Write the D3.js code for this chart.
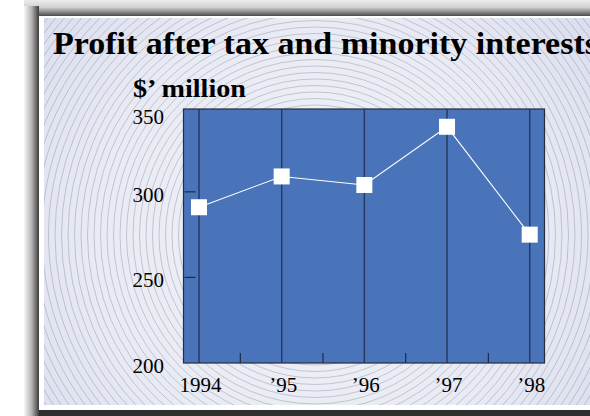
<!DOCTYPE html>
<html>
<head>
<meta charset="utf-8">
<script src="https://cdn.jsdelivr.net/npm/d3@7"></script>
<style>
  html, body { margin: 0; padding: 0; background: #ffffff; }
  svg { display: block; }
  text { font-family: "Liberation Serif", "Times New Roman", serif; fill: #000; }
</style>
</head>
<body>
<svg id="chart" width="590" height="416"></svg>
<script>
// Profit after tax and minority interests, $ million
const years = [1994, 1995, 1996, 1997, 1998];
const yearLabels = ["1994", "\u201995", "\u201996", "\u201997", "\u201998"];
const profit = [291, 309, 304, 338, 275];
const yTicks = [200, 250, 300, 350];

const W = 590, H = 416;
const plot = { left: 183.5, right: 544.5, top: 109, bottom: 363 };

const svg = d3.select("#chart");
const defs = svg.append("defs");

// ---- framed card ----
const sideShade = defs.append("linearGradient").attr("id", "sideShade")
  .attr("x1", 0).attr("x2", 1).attr("y1", 0).attr("y2", 0);
sideShade.append("stop").attr("offset", 0).attr("stop-color", "#f6f6f6");
sideShade.append("stop").attr("offset", 0.5).attr("stop-color", "#b5b5b5");
sideShade.append("stop").attr("offset", 1).attr("stop-color", "#3c3c3c");

const topShade = defs.append("linearGradient").attr("id", "topShade")
  .attr("x1", 0).attr("x2", 0).attr("y1", 0).attr("y2", 1);
topShade.append("stop").attr("offset", 0).attr("stop-color", "#ececec");
topShade.append("stop").attr("offset", 0.45).attr("stop-color", "#d2d2d2");
topShade.append("stop").attr("offset", 0.75).attr("stop-color", "#8a8a8a");
topShade.append("stop").attr("offset", 1).attr("stop-color", "#4a4a4a");

svg.append("rect").attr("x", 24).attr("y", 0).attr("width", W - 24).attr("height", 16)
  .attr("fill", "url(#topShade)");
svg.append("rect").attr("x", 24).attr("y", 6).attr("width", 15).attr("height", H - 6)
  .attr("fill", "url(#sideShade)");
svg.append("rect").attr("x", 39).attr("y", 16).attr("width", W - 39).attr("height", 394)
  .attr("fill", "#ffffff");
svg.append("rect").attr("x", 39).attr("y", 410).attr("width", W - 39).attr("height", 6)
  .attr("fill", "#2f2f2f");

// ---- card background with concentric rings ----
const cx = 315, cy = 235;
const cardBg = defs.append("radialGradient").attr("id", "cardBg")
  .attr("gradientUnits", "userSpaceOnUse")
  .attr("cx", cx).attr("cy", cy).attr("r", 380);
cardBg.append("stop").attr("offset", 0).attr("stop-color", "#f1f2f8");
cardBg.append("stop").attr("offset", 0.55).attr("stop-color", "#e9ebf4");
cardBg.append("stop").attr("offset", 1).attr("stop-color", "#d8dbed");

defs.append("clipPath").attr("id", "cardClip")
  .append("rect").attr("x", 44).attr("y", 18).attr("width", W - 44).attr("height", 387);

const card = svg.append("g").attr("clip-path", "url(#cardClip)");
card.append("rect").attr("x", 44).attr("y", 18).attr("width", W - 44).attr("height", 387)
  .attr("fill", "url(#cardBg)");
card.append("g").selectAll("circle")
  .data(d3.range(6.5, 420, 6.5))
  .join("circle")
  .attr("cx", cx).attr("cy", cy).attr("r", d => d)
  .attr("fill", "none")
  .attr("stroke", "#7d8093")
  .attr("stroke-opacity", 0.55)
  .attr("stroke-width", 0.7);

// ---- titles ----
card.append("text").attr("x", 53).attr("y", 54)
  .attr("font-size", 32).attr("font-weight", "bold")
  .attr("textLength", 545).attr("lengthAdjust", "spacingAndGlyphs")
  .text("Profit after tax and minority interests");
svg.append("text").attr("x", 133).attr("y", 97)
  .attr("font-size", 26).attr("font-weight", "bold")
  .attr("textLength", 113).attr("lengthAdjust", "spacingAndGlyphs")
  .text("$\u2019 million");

// ---- scales ----
const x = d3.scaleLinear().domain([1994, 1998]).range([199, 529.7]);
const y = d3.scaleLinear().domain([200, 348.4]).range([plot.bottom, plot.top]);

// plot panel
svg.append("rect")
  .attr("x", plot.left).attr("y", plot.top)
  .attr("width", plot.right - plot.left).attr("height", plot.bottom - plot.top)
  .attr("fill", "#4a74b9");

// vertical year lines
svg.append("g").selectAll("line").data(years).join("line")
  .attr("x1", d => x(d)).attr("x2", d => x(d))
  .attr("y1", plot.top).attr("y2", plot.bottom)
  .attr("stroke", "#28365a").attr("stroke-width", 1.4);

// half-year ticks along the base
svg.append("g").selectAll("line").data(years.slice(0, -1).map(d => d + 0.5)).join("line")
  .attr("x1", d => x(d)).attr("x2", d => x(d))
  .attr("y1", plot.bottom - 10).attr("y2", plot.bottom)
  .attr("stroke", "#1f2a44").attr("stroke-width", 1.2);

// value ticks on the left edge
svg.append("g").selectAll("line").data(yTicks.filter(v => v > 200 && v < 350)).join("line")
  .attr("x1", plot.left + 1).attr("x2", plot.left + 12)
  .attr("y1", d => y(d)).attr("y2", d => y(d))
  .attr("stroke", "#1f2a44").attr("stroke-width", 1.2);

// panel border
svg.append("rect")
  .attr("x", plot.left).attr("y", plot.top)
  .attr("width", plot.right - plot.left).attr("height", plot.bottom - plot.top)
  .attr("fill", "none").attr("stroke", "#252c3d").attr("stroke-width", 1.2);

// axis labels
svg.append("g").selectAll("text").data(yTicks).join("text")
  .attr("x", 164).attr("text-anchor", "end")
  .attr("y", d => Math.max(y(d), plot.top + 5) + 10)
  .attr("font-size", 21)
  .text(d => d);

svg.append("g").selectAll("text").data(years).join("text")
  .attr("x", d => x(d) + 1.5).attr("y", 392).attr("text-anchor", "middle")
  .attr("font-size", 21)
  .text((d, i) => yearLabels[i]);

// profit line and markers
const pts = years.map((yr, i) => [x(yr), y(profit[i])]);
svg.append("path")
  .attr("d", d3.line()(pts))
  .attr("fill", "none").attr("stroke", "#ffffff").attr("stroke-width", 1.1);

svg.append("g").selectAll("rect").data(pts).join("rect")
  .attr("x", d => d[0] - 8).attr("y", d => d[1] - 8)
  .attr("width", 16).attr("height", 16)
  .attr("fill", "#ffffff");
</script>
</body>
</html>
